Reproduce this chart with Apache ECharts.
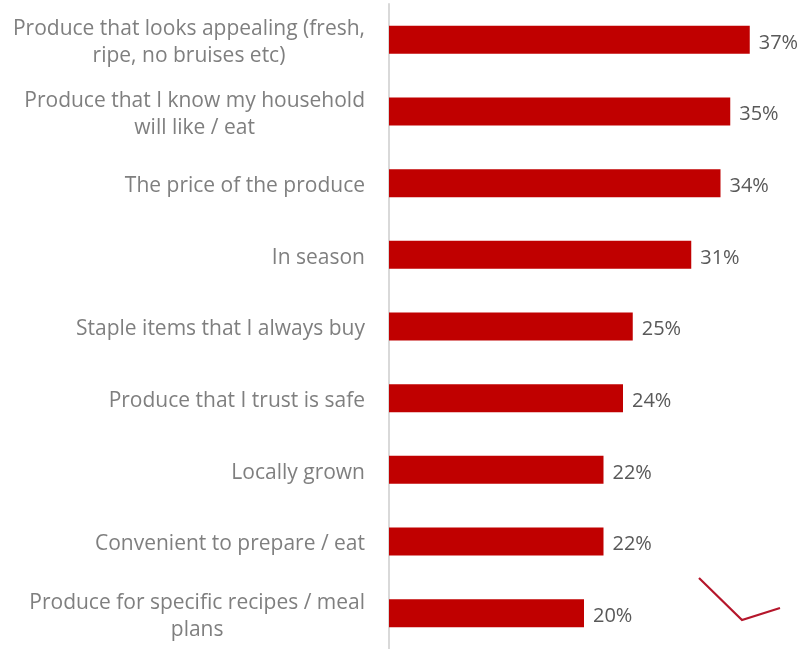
<!DOCTYPE html>
<html>
<head>
<meta charset="utf-8">
<script src="https://cdn.jsdelivr.net/npm/echarts@6/dist/echarts.min.js"></script>
<style>
  html, body { margin: 0; padding: 0; background: #ffffff; }
  #chart { width: 803px; height: 649px; }
</style>
</head>
<body>
<div id="chart"></div>
<script>
// Purchase drivers for fresh produce, share of respondents (%)
const categories = [
  'Produce that looks appealing (fresh,\nripe, no bruises etc)',
  'Produce that I know my household\nwill like / eat',
  'The price of the produce',
  'In season',
  'Staple items that I always buy',
  'Produce that I trust is safe',
  'Locally grown',
  'Convenient to prepare / eat',
  'Produce for specific recipes / meal\nplans'
];
const values = [37, 35, 34, 31, 25, 24, 22, 22, 20];

const FONT = '"Open Sans", sans-serif';
const chart = echarts.init(document.getElementById('chart'), null, { renderer: 'canvas' });

chart.setOption({
  animation: false,
  backgroundColor: '#ffffff',
  grid: { left: 389, top: 4, width: 390, bottom: -3, containLabel: false },
  xAxis: {
    type: 'value',
    min: 0,
    max: 40,
    show: false
  },
  yAxis: {
    type: 'category',
    inverse: true,
    data: categories,
    axisLine: { show: true, lineStyle: { color: '#d9d9d9', width: 2 } },
    axisTick: { show: false },
    axisLabel: {
      margin: 24,
      fontFamily: FONT,
      fontSize: 21,
      color: '#7f7f7f',
      lineHeight: 27,
      padding: [6, 0, 0, 0],
      // centre each line of a wrapped label under the longest one
      formatter: function (v) {
        return v.split('\n').map(function (l) { return '{c|' + l + '}'; }).join('\n');
      },
      rich: {
        c: { align: 'center', fontFamily: FONT, fontSize: 21, color: '#7f7f7f', lineHeight: 27 }
      }
    }
  },
  series: [{
    type: 'bar',
    data: values,
    barWidth: 28,
    itemStyle: { color: '#c00000' },
    label: {
      show: true,
      position: 'right',
      distance: 9,
      offset: [0, 3],
      fontFamily: FONT,
      fontSize: 20,
      color: '#595959',
      formatter: '{c}%'
    }
  }],
  graphic: [{
    type: 'polyline',
    shape: { points: [[699, 578], [742, 620], [780, 608]] },
    style: { stroke: '#b5162b', lineWidth: 2.2, fill: null }
  }]
});
</script>
</body>
</html>
